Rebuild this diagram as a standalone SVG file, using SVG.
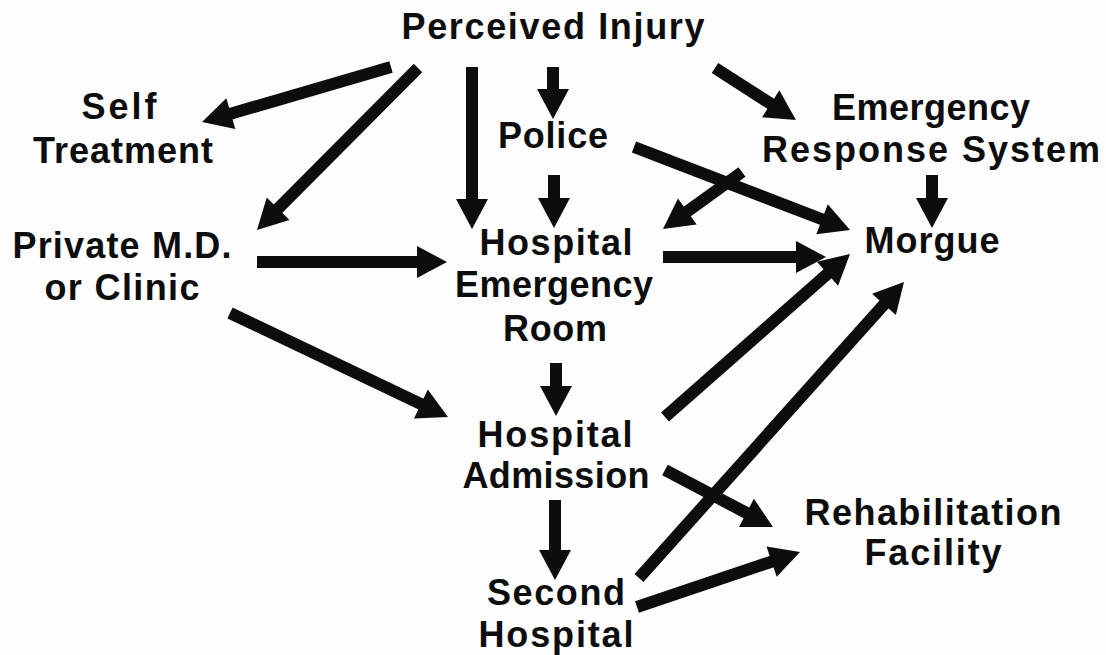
<svg xmlns="http://www.w3.org/2000/svg" width="1106" height="655" viewBox="0 0 1106 655">
  <style>
    .t { font-family: "Liberation Sans", Arial, sans-serif; font-weight: bold; font-size: 36px; fill: #0d0d0d; text-anchor: middle; }
    .a { stroke: #0d0d0d; stroke-width: 12; fill: none; marker-end: url(#ah); }
  </style>
  <defs>
    <marker id="ah" markerUnits="userSpaceOnUse" markerWidth="32" markerHeight="34" refX="2" refY="16" orient="auto" viewBox="0 0 32 32" overflow="visible">
      <path d="M0,0 L30,16 L0,32 z" fill="#0d0d0d"/>
    </marker>
  </defs>
  <rect width="1106" height="655" fill="#fdfdfd"/>
  <g id="connectors">
    <line class="a" x1="391" y1="67" x2="228.9" y2="114.2"/>
    <line class="a" x1="418" y1="68" x2="276.7" y2="210.1"/>
    <line class="a" x1="472" y1="67" x2="472" y2="201"/>
    <line class="a" x1="553" y1="67" x2="553" y2="91"/>
    <line class="a" x1="554" y1="175" x2="554" y2="200"/>
    <line class="a" x1="257" y1="262" x2="419" y2="262"/>
    <line class="a" x1="230" y1="313" x2="422.7" y2="404.9"/>
    <line class="a" x1="556" y1="363" x2="556" y2="388"/>
    <line class="a" x1="555" y1="500" x2="555" y2="552"/>
    <line class="a" x1="715" y1="68" x2="772.4" y2="104.9"/>
    <line class="a" x1="634" y1="147" x2="823.9" y2="220"/>
    <line class="a" x1="742" y1="172" x2="685.7" y2="212.6"/>
    <line class="a" x1="932" y1="175" x2="932" y2="200"/>
    <line class="a" x1="663" y1="257" x2="798" y2="257"/>
    <line class="a" x1="665" y1="417" x2="829" y2="272.5"/>
    <line class="a" x1="639" y1="578" x2="885.3" y2="302.9"/>
    <line class="a" x1="665" y1="470" x2="748.2" y2="513.9"/>
    <line class="a" x1="637" y1="607" x2="773.5" y2="561"/>
  </g>
  <g id="perceived-injury"><text class="t" x="553" y="39" textLength="303">Perceived Injury</text></g>
  <g id="self-treatment">
    <text class="t" x="119" y="119" textLength="75">Self</text>
    <text class="t" x="123" y="163" textLength="180">Treatment</text>
  </g>
  <g id="private-md">
    <text class="t" x="122" y="258" textLength="219">Private M.D.</text>
    <text class="t" x="122" y="300" textLength="155">or Clinic</text>
  </g>
  <g id="police"><text class="t" x="553" y="148" textLength="110">Police</text></g>
  <g id="hospital-er">
    <text class="t" x="556" y="255" textLength="153">Hospital</text>
    <text class="t" x="554" y="297" textLength="198">Emergency</text>
    <text class="t" x="555" y="341" textLength="104">Room</text>
  </g>
  <g id="ers">
    <text class="t" x="931" y="120" textLength="198">Emergency</text>
    <text class="t" x="931" y="162" textLength="338">Response System</text>
  </g>
  <g id="morgue"><text class="t" x="932" y="253" textLength="135">Morgue</text></g>
  <g id="hospital-admission">
    <text class="t" x="555" y="447" textLength="155">Hospital</text>
    <text class="t" x="556" y="488" textLength="187">Admission</text>
  </g>
  <g id="second-hospital">
    <text class="t" x="556" y="605" textLength="138">Second</text>
    <text class="t" x="556" y="647" textLength="155">Hospital</text>
  </g>
  <g id="rehab">
    <text class="t" x="933" y="525" textLength="257">Rehabilitation</text>
    <text class="t" x="933" y="565" textLength="137">Facility</text>
  </g>
</svg>
